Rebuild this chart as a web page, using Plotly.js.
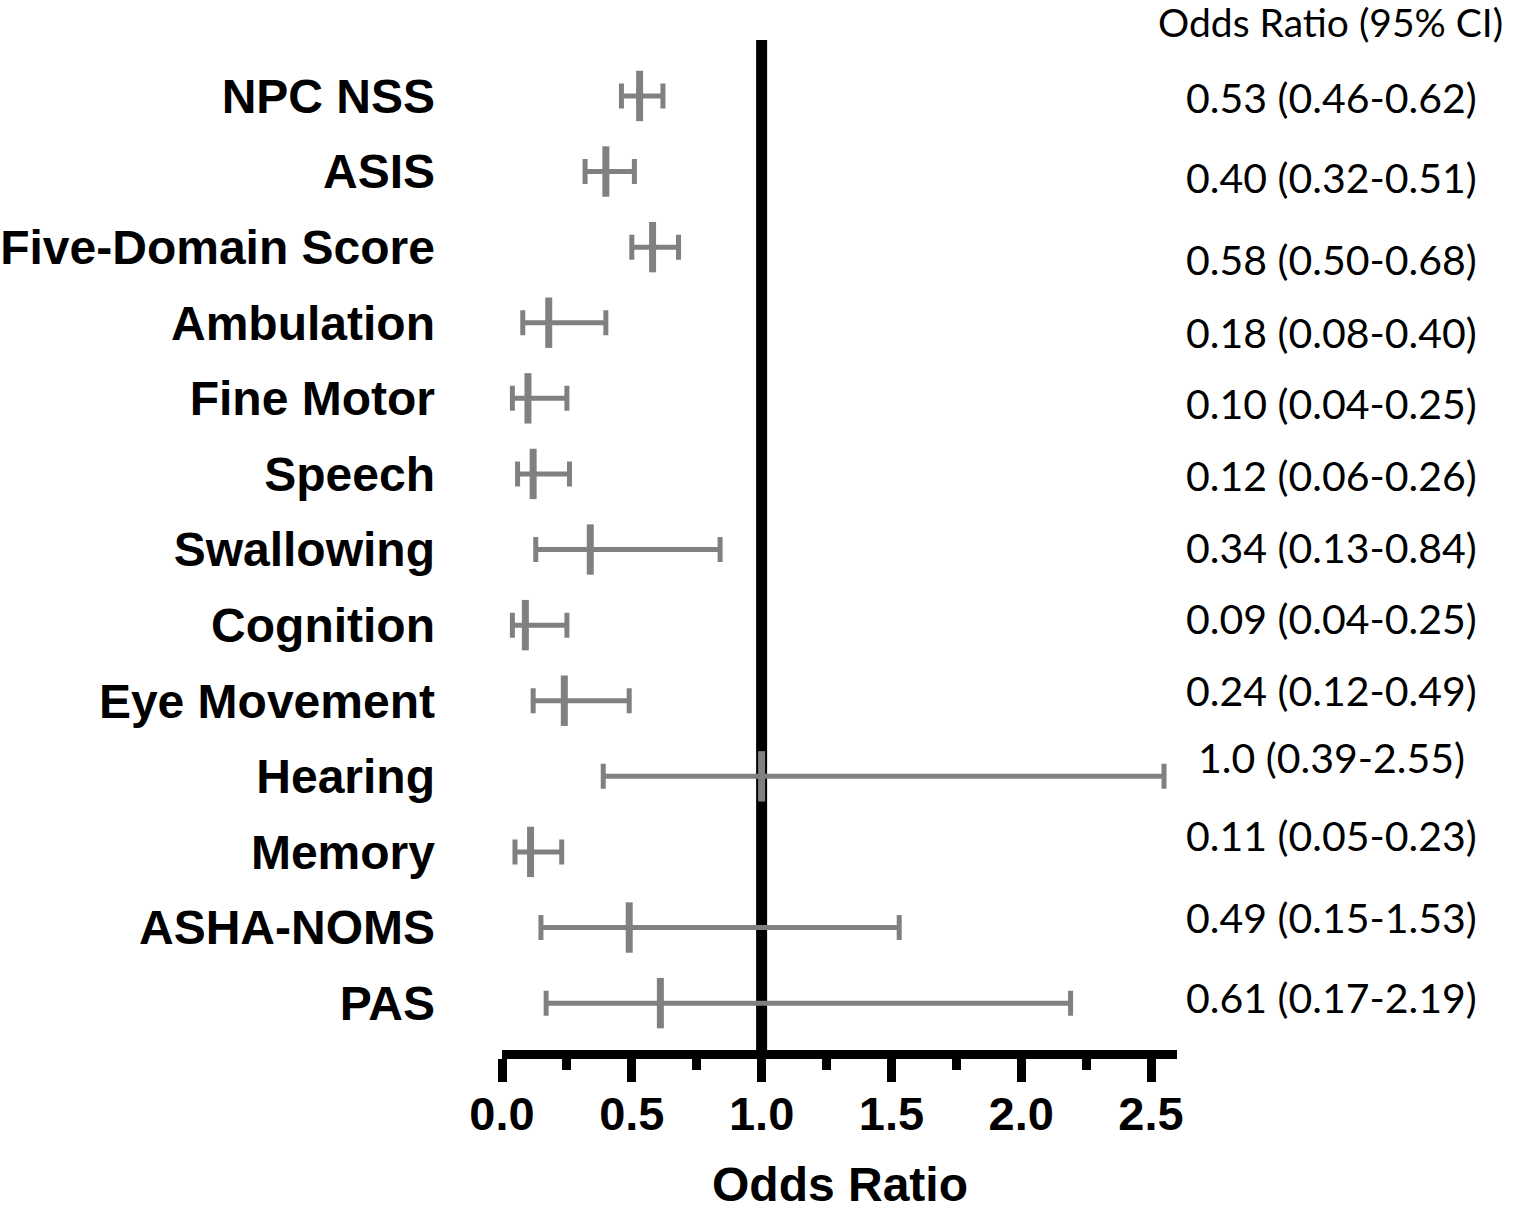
<!DOCTYPE html>
<html>
<head>
<meta charset="utf-8">
<script src="https://cdn.plot.ly/plotly-3.0.1.min.js"></script>
<style>
  html, body { margin: 0; padding: 0; background: #ffffff; }
  #chart { width: 1514px; height: 1217px; }
</style>
</head>
<body>
<div id="chart"></div>
<script>
// ---- data ----
const measures = ["NPC NSS", "ASIS", "Five-Domain Score", "Ambulation", "Fine Motor", "Speech",
  "Swallowing", "Cognition", "Eye Movement", "Hearing", "Memory", "ASHA-NOMS", "PAS"];
const oddsRatio = [0.53, 0.40, 0.58, 0.18, 0.10, 0.12, 0.34, 0.09, 0.24, 1.0, 0.11, 0.49, 0.61];
const ciLower   = [0.46, 0.32, 0.50, 0.08, 0.04, 0.06, 0.13, 0.04, 0.12, 0.39, 0.05, 0.15, 0.17];
const ciUpper   = [0.62, 0.51, 0.68, 0.40, 0.25, 0.26, 0.84, 0.25, 0.49, 2.55, 0.23, 1.53, 2.19];
const ciLabels  = ["0.53 (0.46-0.62)", "0.40 (0.32-0.51)", "0.58 (0.50-0.68)", "0.18 (0.08-0.40)",
  "0.10 (0.04-0.25)", "0.12 (0.06-0.26)", "0.34 (0.13-0.84)", "0.09 (0.04-0.25)",
  "0.24 (0.12-0.49)", "1.0 (0.39-2.55)", "0.11 (0.05-0.23)", "0.49 (0.15-1.53)", "0.61 (0.17-2.19)"];
const xTickVals = [0, 0.5, 1.0, 1.5, 2.0, 2.5];
const xTickText = ["0.0", "0.5", "1.0", "1.5", "2.0", "2.5"];
const xTitle = "Odds Ratio";
const ciHeader = "Odds Ratio (95% CI)";
const referenceOR = 1.0;

// ---- layout tweaks (text placement nudges, px) ----
const labelNudge = [-2, -6, -12, -10, -5, -2, 2, 7, 10, 19, 16, 10, 6];

const GRAY = "#808080";
const boldFont = "Liberation Sans, Arial, sans-serif";
const ciFont = "Lato, Calibri, sans-serif";

const trace = {
  type: "scatter",
  mode: "markers",
  x: oddsRatio,
  y: measures,
  marker: {
    symbol: "line-ns",
    size: 36,
    color: GRAY,
    line: { color: GRAY, width: 7 }
  },
  error_x: {
    type: "data",
    symmetric: false,
    array: oddsRatio.map((v, i) => ciUpper[i] - v),
    arrayminus: oddsRatio.map((v, i) => v - ciLower[i]),
    color: GRAY,
    thickness: 5,
    width: 12.5
  },
  hoverinfo: "x+y",
  showlegend: false
};

const annotations = measures.map((m, i) => ({
  xref: "paper", yref: "y",
  x: 1.229, y: m,
  text: ciLabels[i],
  showarrow: false,
  xanchor: "center", yanchor: "middle",
  yshift: labelNudge[i],
  font: { family: ciFont, size: 41, color: "#000000" }
}));
annotations.push({
  xref: "paper", yref: "paper",
  x: 1.228, y: 1.0,
  text: ciHeader,
  showarrow: false,
  xanchor: "center", yanchor: "middle",
  yshift: 18,
  font: { family: ciFont, size: 39, color: "#000000" }
});
// x-axis title (placed as an annotation so it can sit near the bottom edge)
annotations.push({
  xref: "paper", yref: "paper",
  x: 0.5, y: 0,
  text: xTitle,
  showarrow: false,
  xanchor: "center", yanchor: "middle",
  yshift: -134,
  borderpad: 0,
  font: { family: boldFont, size: 48, color: "#000000", weight: 700 }
});

const layout = {
  width: 1514,
  height: 1217,
  margin: { l: 502, r: 337, t: 40, b: 167, pad: 0 },
  paper_bgcolor: "#ffffff",
  plot_bgcolor: "#ffffff",
  showlegend: false,
  xaxis: {
    range: [0, 2.6],
    tickvals: xTickVals,
    ticktext: xTickText,
    showgrid: false,
    zeroline: false,
    showline: true,
    linecolor: "#000000",
    linewidth: 9,
    ticks: "outside",
    ticklen: 23,
    tickwidth: 9,
    tickcolor: "#000000",
    minor: { dtick: 0.25, tick0: 0, ticks: "outside", ticklen: 11, tickwidth: 9, tickcolor: "#000000", showgrid: false },
    tickfont: { family: boldFont, size: 47, color: "#000000", weight: 700 },
    ticklabelstandoff: -8,
    fixedrange: true
  },
  yaxis: {
    type: "category",
    range: [12.62, -0.74],
    showgrid: false,
    zeroline: false,
    showline: false,
    ticks: "",
    ticklabelstandoff: 66,
    tickfont: { family: boldFont, size: 48, color: "#000000", weight: 700 },
    fixedrange: true
  },
  shapes: [{
    type: "line",
    xref: "x", yref: "paper",
    x0: referenceOR, x1: referenceOR, y0: 0, y1: 1,
    line: { color: "#000000", width: 11 },
    layer: "below"
  }],
  annotations: annotations
};

Plotly.newPlot("chart", [trace], layout, { displayModeBar: false, staticPlot: true });
</script>
</body>
</html>
